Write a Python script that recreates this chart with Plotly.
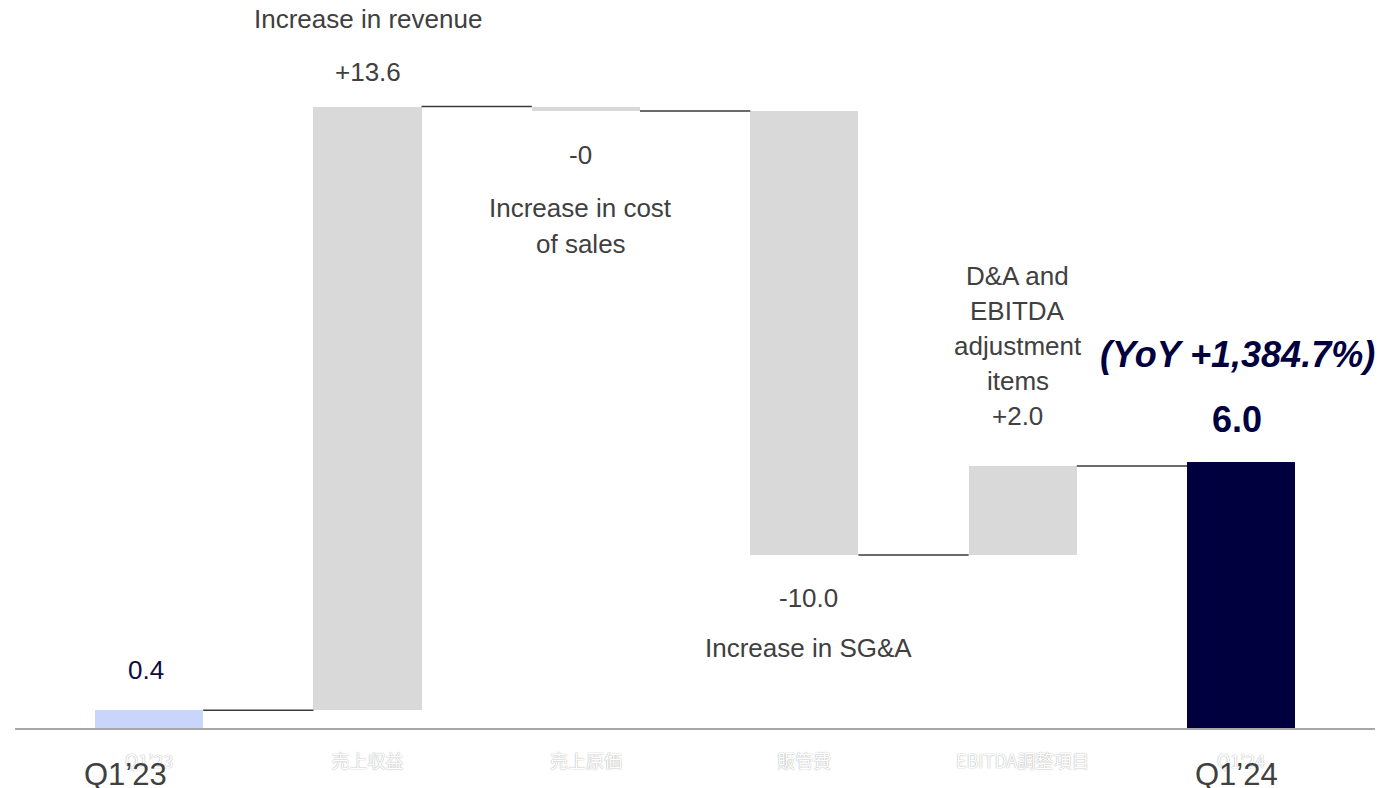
import plotly.graph_objects as go

# Operating bridge: Q1'23 -> Q1'24 (EBITDA, 100M JPY)
categories = ["Q1’23", "売上収益", "売上原価", "販管費", "EBITDA調整項目", "Q1’24"]
period_labels = ["Q1’23", "", "", "", "", "Q1’24"]
measures = ["absolute", "relative", "relative", "relative", "relative", "absolute"]
values = [0.4, 13.6, -0.1, -10.0, 2.0, 6.0]
value_labels = ["0.4", "+13.6", "-0", "-10.0", "+2.0", "6.0"]
yoy_label = "(YoY +1,384.7%)"

GREY = "#d9d9d9"
START = "#c9d5fa"
NAVY = "#00003f"
TEXT = "#404040"
FONT = "Liberation Sans, Arial, sans-serif"

# cumulative bases / tops / running levels
bases, tops, levels = [], [], []
running = 0.0
for m, v in zip(measures, values):
    if m == "absolute":
        bases.append(0.0)
        tops.append(v)
        running = v
    else:
        lo, hi = sorted([running, running + v])
        bases.append(lo)
        tops.append(hi)
        running += v
    levels.append(running)

colors = [START, GREY, GREY, GREY, GREY, NAVY]
x = list(range(len(categories)))
bar_w = 0.495

fig = go.Figure()
fig.add_trace(go.Bar(
    x=x, y=[t - b for t, b in zip(tops, bases)], base=bases, width=bar_w,
    marker=dict(color=colors, line=dict(width=0)), hoverinfo="skip",
))

# connectors between consecutive bars
cx, cy = [], []
for i in range(len(x) - 1):
    cx += [x[i] + bar_w / 2, x[i + 1] - bar_w / 2, None]
    cy += [levels[i], levels[i], None]
fig.add_trace(go.Scatter(x=cx, y=cy, mode="lines",
                         line=dict(color="#3a3a3a", width=1.5), hoverinfo="skip"))


def note(xv, yv, lines, shift, step=35, xshift=0, size=26, color=TEXT,
         bold=False, italic=False):
    """Stack text lines one per annotation; `shift` is the first line's offset."""
    if isinstance(lines, str):
        lines = [lines]
    for k, line in enumerate(lines):
        t = line
        if bold:
            t = f"<b>{t}</b>"
        if italic:
            t = f"<i>{t}</i>"
        fig.add_annotation(x=xv, y=yv, xref="x", yref="y", text=t, showarrow=False,
                           yshift=shift - k * step, xshift=xshift, yanchor="middle",
                           font=dict(family=FONT, size=size, color=color))


# value labels and captions
note(0, tops[0], value_labels[0], 40, xshift=-3, color="#0c0c40")
note(1, tops[1], value_labels[1], 35)
note(1, tops[1], "Increase in revenue", 88)
note(2, bases[2], value_labels[2], -44, xshift=-5)
note(2, bases[2], ["Increase in cost", "of sales"], -97, step=36, xshift=-5)
note(3, bases[3], value_labels[3], -43, xshift=4)
note(3, bases[3], "Increase in SG&A", -93, xshift=4)
note(4, tops[4], ["D&A and", "EBITDA", "adjustment", "items", value_labels[4]],
     190, step=35, xshift=-5)
note(5, tops[5], value_labels[5], 42, xshift=-4, size=36, color=NAVY, bold=True)
note(5, tops[5], yoy_label, 107, xshift=-4, size=36, color=NAVY, bold=True, italic=True)

# period captions below the axis
for xi, lab in zip(x, period_labels):
    if lab:
        fig.add_annotation(x=xi - (0.11 if xi == 0 else 0.02), y=0, xref="x", yref="y",
                           text=lab, showarrow=False, yanchor="middle", yshift=-46,
                           font=dict(family=FONT, size=31, color=TEXT))

fig.update_layout(
    width=1382, height=788,
    margin=dict(l=15, r=7, t=0, b=60),
    paper_bgcolor="white", plot_bgcolor="white",
    showlegend=False, bargap=0,
    xaxis=dict(
        range=[-0.614, 5.613], tickmode="array", tickvals=x, ticktext=categories,
        showline=True, linecolor="#a8a8a8", linewidth=1.5, showgrid=False,
        zeroline=False, ticks="outside", ticklen=17, tickcolor="rgba(0,0,0,0)",
        tickfont=dict(family="Noto Sans CJK JP, " + FONT, size=18, color="white",
                      shadow="0px 0px 1.2px #8a8a8a"),
    ),
    yaxis=dict(range=[0, 16.4], visible=False, showgrid=False, zeroline=False),
)

fig.write_html("out.html")
